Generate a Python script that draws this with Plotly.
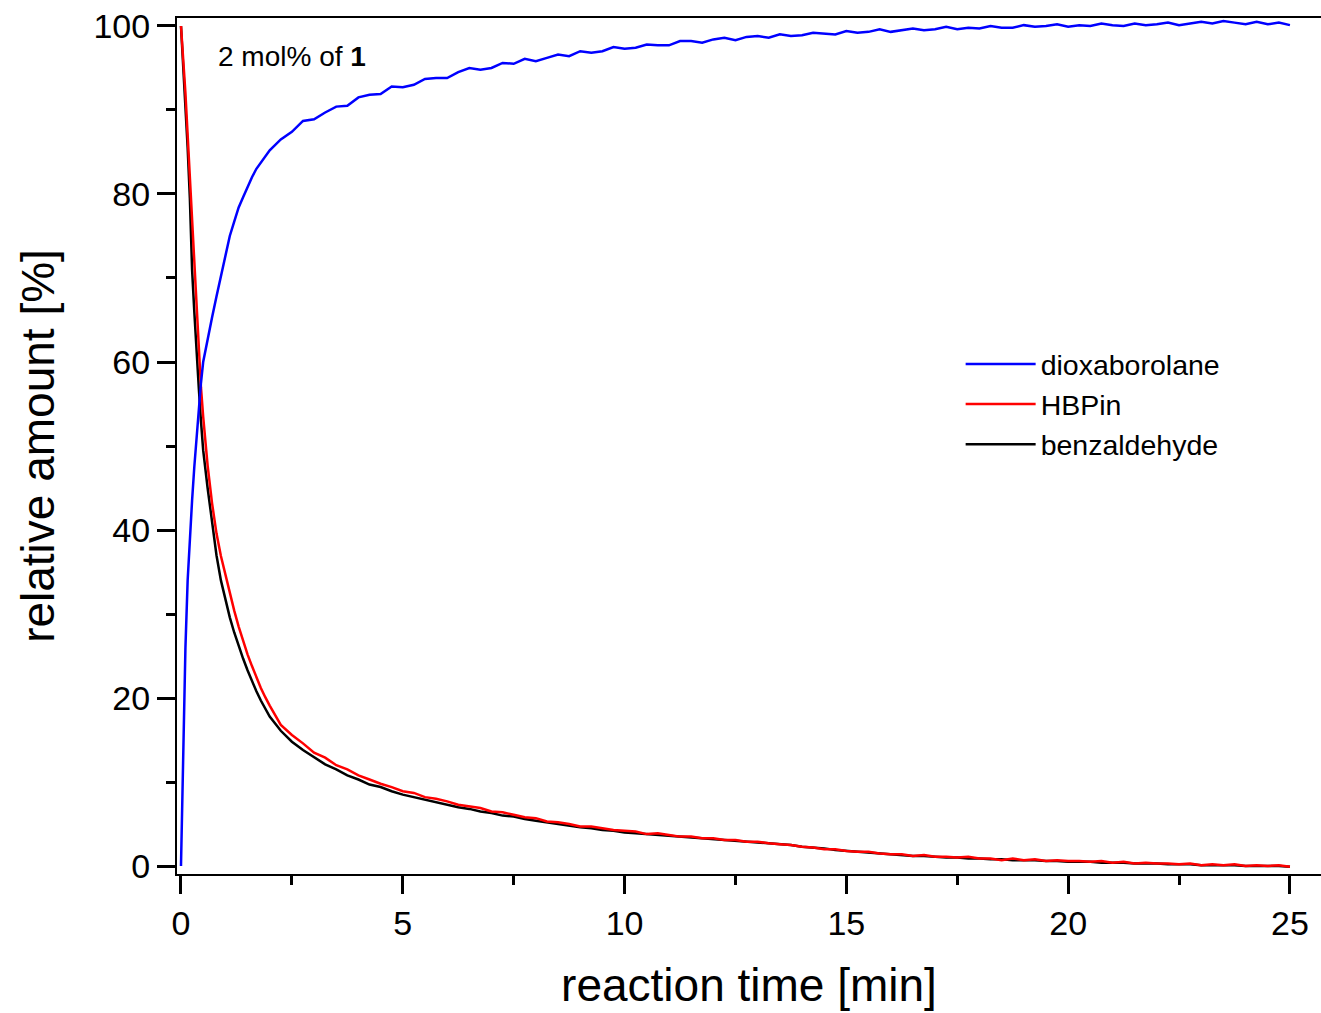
import plotly.graph_objects as go

# time points [min]
time_min = [0, 0.05, 0.1, 0.15, 0.2, 0.25, 0.3, 0.35, 0.4, 0.45, 0.5,
            0.6, 0.7, 0.8, 0.9, 1.0, 1.1, 1.2, 1.3, 1.4, 1.5, 1.6, 1.7, 1.8, 1.9, 2.0,
            2.25, 2.5, 2.75, 3.0, 3.25, 3.5, 3.75, 4.0, 4.25, 4.5, 4.75, 5.0,
            5.25, 5.5, 5.75, 6.0, 6.25, 6.5, 6.75, 7.0, 7.25, 7.5, 7.75, 8.0,
            8.25, 8.5, 8.75, 9.0, 9.25, 9.5, 9.75, 10.0, 10.25, 10.5, 10.75, 11.0,
            11.25, 11.5, 11.75, 12.0, 12.25, 12.5, 12.75, 13.0, 13.25, 13.5, 13.75, 14.0,
            14.25, 14.5, 14.75, 15.0, 15.25, 15.5, 15.75, 16.0, 16.25, 16.5, 16.75, 17.0,
            17.25, 17.5, 17.75, 18.0, 18.25, 18.5, 18.75, 19.0, 19.25, 19.5, 19.75, 20.0,
            20.25, 20.5, 20.75, 21.0, 21.25, 21.5, 21.75, 22.0, 22.25, 22.5, 22.75, 23.0,
            23.25, 23.5, 23.75, 24.0, 24.25, 24.5, 24.75, 25.0]

dioxaborolane = [0, 14, 26, 34, 39.5, 43.5, 47.5, 51, 54.5, 57.5, 60.0,
                 62.8, 65.3, 67.8, 70.3, 72.6, 75.0, 76.7, 78.4, 79.6, 80.9, 82.0, 83.0, 83.7, 84.5, 85.2,
                 86.5, 87.4, 88.7, 88.9, 89.7, 90.4, 90.5, 91.5, 91.8, 91.9, 92.8, 92.7,
                 93.0, 93.7, 93.8, 93.8, 94.5, 95.0, 94.8, 95.0, 95.6, 95.5, 96.1, 95.8,
                 96.2, 96.6, 96.4, 97.0, 96.8, 97.0, 97.5, 97.3, 97.4, 97.8, 97.7, 97.7,
                 98.2, 98.2, 98.0, 98.4, 98.6, 98.3, 98.7, 98.8, 98.6, 99.0, 98.8, 98.9,
                 99.2, 99.1, 99.0, 99.4, 99.2, 99.3, 99.6, 99.3, 99.5, 99.7, 99.5, 99.6,
                 99.9, 99.6, 99.8, 99.7, 100.0, 99.8, 99.8, 100.1, 99.9, 100.0, 100.2, 99.9,
                 100.1, 100.0, 100.3, 100.1, 100.0, 100.3, 100.1, 100.2, 100.4, 100.1, 100.3, 100.5,
                 100.3, 100.6, 100.4, 100.2, 100.5, 100.2, 100.4, 100.1]

hbpin = [100, 96.5, 92, 87, 82, 77, 72, 67, 61, 57, 53.5,
         47.7, 43.2, 39.6, 36.9, 34.6, 32.4, 30.4, 28.5, 26.8, 25.2, 23.8, 22.4, 21.2, 20.1, 19.1,
         16.8, 15.6, 14.6, 13.5, 12.9, 12.0, 11.5, 10.8, 10.3, 9.8, 9.4, 8.9,
         8.7, 8.2, 8.0, 7.7, 7.3, 7.1, 6.9, 6.5, 6.4, 6.1, 5.8, 5.7,
         5.3, 5.2, 5.0, 4.7, 4.7, 4.5, 4.3, 4.2, 4.1, 3.8, 3.9, 3.7,
         3.5, 3.5, 3.3, 3.3, 3.1, 3.1, 2.9, 2.9, 2.7, 2.6, 2.5, 2.3,
         2.2, 2.0, 2.0, 1.8, 1.7, 1.7, 1.5, 1.4, 1.4, 1.2, 1.3, 1.1,
         1.1, 1.0, 1.1, 0.9, 0.9, 0.7, 0.9, 0.7, 0.8, 0.6, 0.7, 0.6,
         0.6, 0.5, 0.6, 0.4, 0.5, 0.3, 0.4, 0.3, 0.3, 0.2, 0.3, 0.1,
         0.2, 0.1, 0.2, 0.0, 0.1, 0.0, 0.1, -0.1]

benzaldehyde = [100, 95.5, 91, 85.5, 79.5, 71, 66, 61, 57, 53, 49.5,
                45.0, 40.8, 37.0, 34.0, 31.6, 29.6, 27.8, 26.2, 24.7, 23.3, 22.0, 20.8, 19.7, 18.7, 17.8,
                16.1, 14.8, 13.8, 12.9, 12.1, 11.5, 10.8, 10.3, 9.7, 9.4, 8.9, 8.5,
                8.2, 7.9, 7.6, 7.3, 7.0, 6.8, 6.5, 6.3, 6.0, 5.9, 5.6, 5.4,
                5.2, 5.0, 4.8, 4.6, 4.5, 4.3, 4.2, 4.0, 3.9, 3.8, 3.7, 3.6,
                3.5, 3.4, 3.3, 3.2, 3.1, 3.0, 2.9, 2.8, 2.7, 2.6, 2.5, 2.3,
                2.2, 2.1, 1.9, 1.8, 1.7, 1.6, 1.5, 1.4, 1.3, 1.2, 1.2, 1.1,
                1.0, 1.0, 0.9, 0.9, 0.8, 0.8, 0.7, 0.7, 0.7, 0.6, 0.6, 0.5,
                0.5, 0.5, 0.4, 0.4, 0.4, 0.3, 0.3, 0.3, 0.2, 0.2, 0.2, 0.1,
                0.1, 0.1, 0.1, 0.0, 0.0, 0.0, 0.0, -0.1]

FONT = "Liberation Sans, Arial, sans-serif"

fig = go.Figure()
fig.add_trace(go.Scatter(x=time_min, y=benzaldehyde, mode="lines", name="benzaldehyde",
                         line=dict(color="#000000", width=2.5)))
fig.add_trace(go.Scatter(x=time_min, y=hbpin, mode="lines", name="HBPin",
                         line=dict(color="#FF0000", width=2.5)))
fig.add_trace(go.Scatter(x=time_min, y=dioxaborolane, mode="lines", name="dioxaborolane",
                         line=dict(color="#0000FF", width=2.5)))

fig.update_layout(
    width=1321, height=1013,
    margin=dict(l=177, r=0, t=18, b=139),
    paper_bgcolor="white", plot_bgcolor="white",
    font=dict(family=FONT, color="black"),
    showlegend=True,
    legend=dict(x=0.685, y=0.625, xanchor="left", yanchor="top",
                traceorder="reversed", font=dict(size=28.5, family=FONT),
                bgcolor="rgba(0,0,0,0)", itemwidth=70, tracegroupgap=0),
    annotations=[dict(x=0.034, y=0.955, xref="paper", yref="paper",
                      xanchor="left", yanchor="middle", showarrow=False,
                      text="2 mol% of <b>1</b>", font=dict(size=28, family=FONT))],
)

fig.update_xaxes(
    range=[-0.09, 25.7], showgrid=False, zeroline=False,
    showline=True, linecolor="black", linewidth=2, mirror=True,
    ticks="outside", ticklen=18, tickwidth=2.5, tickcolor="black",
    tick0=0, dtick=5, tickfont=dict(size=34, family=FONT),
    minor=dict(dtick=2.5, ticks="outside", ticklen=9, tickwidth=2.5, tickcolor="black"),
    title=dict(text="reaction time [min]", font=dict(size=46, family=FONT), standoff=28),
)
fig.update_yaxes(
    range=[-0.95, 100.95], showgrid=False, zeroline=False,
    showline=True, linecolor="black", linewidth=2, mirror=False,
    ticks="outside", ticklen=18, tickwidth=2.5, tickcolor="black",
    tick0=0, dtick=20, tickfont=dict(size=34, family=FONT),
    minor=dict(dtick=10, ticks="outside", ticklen=9, tickwidth=2.5, tickcolor="black"),
    title=dict(text="relative amount [%]", font=dict(size=46, family=FONT), standoff=24),
)

fig.write_html("out.html")
